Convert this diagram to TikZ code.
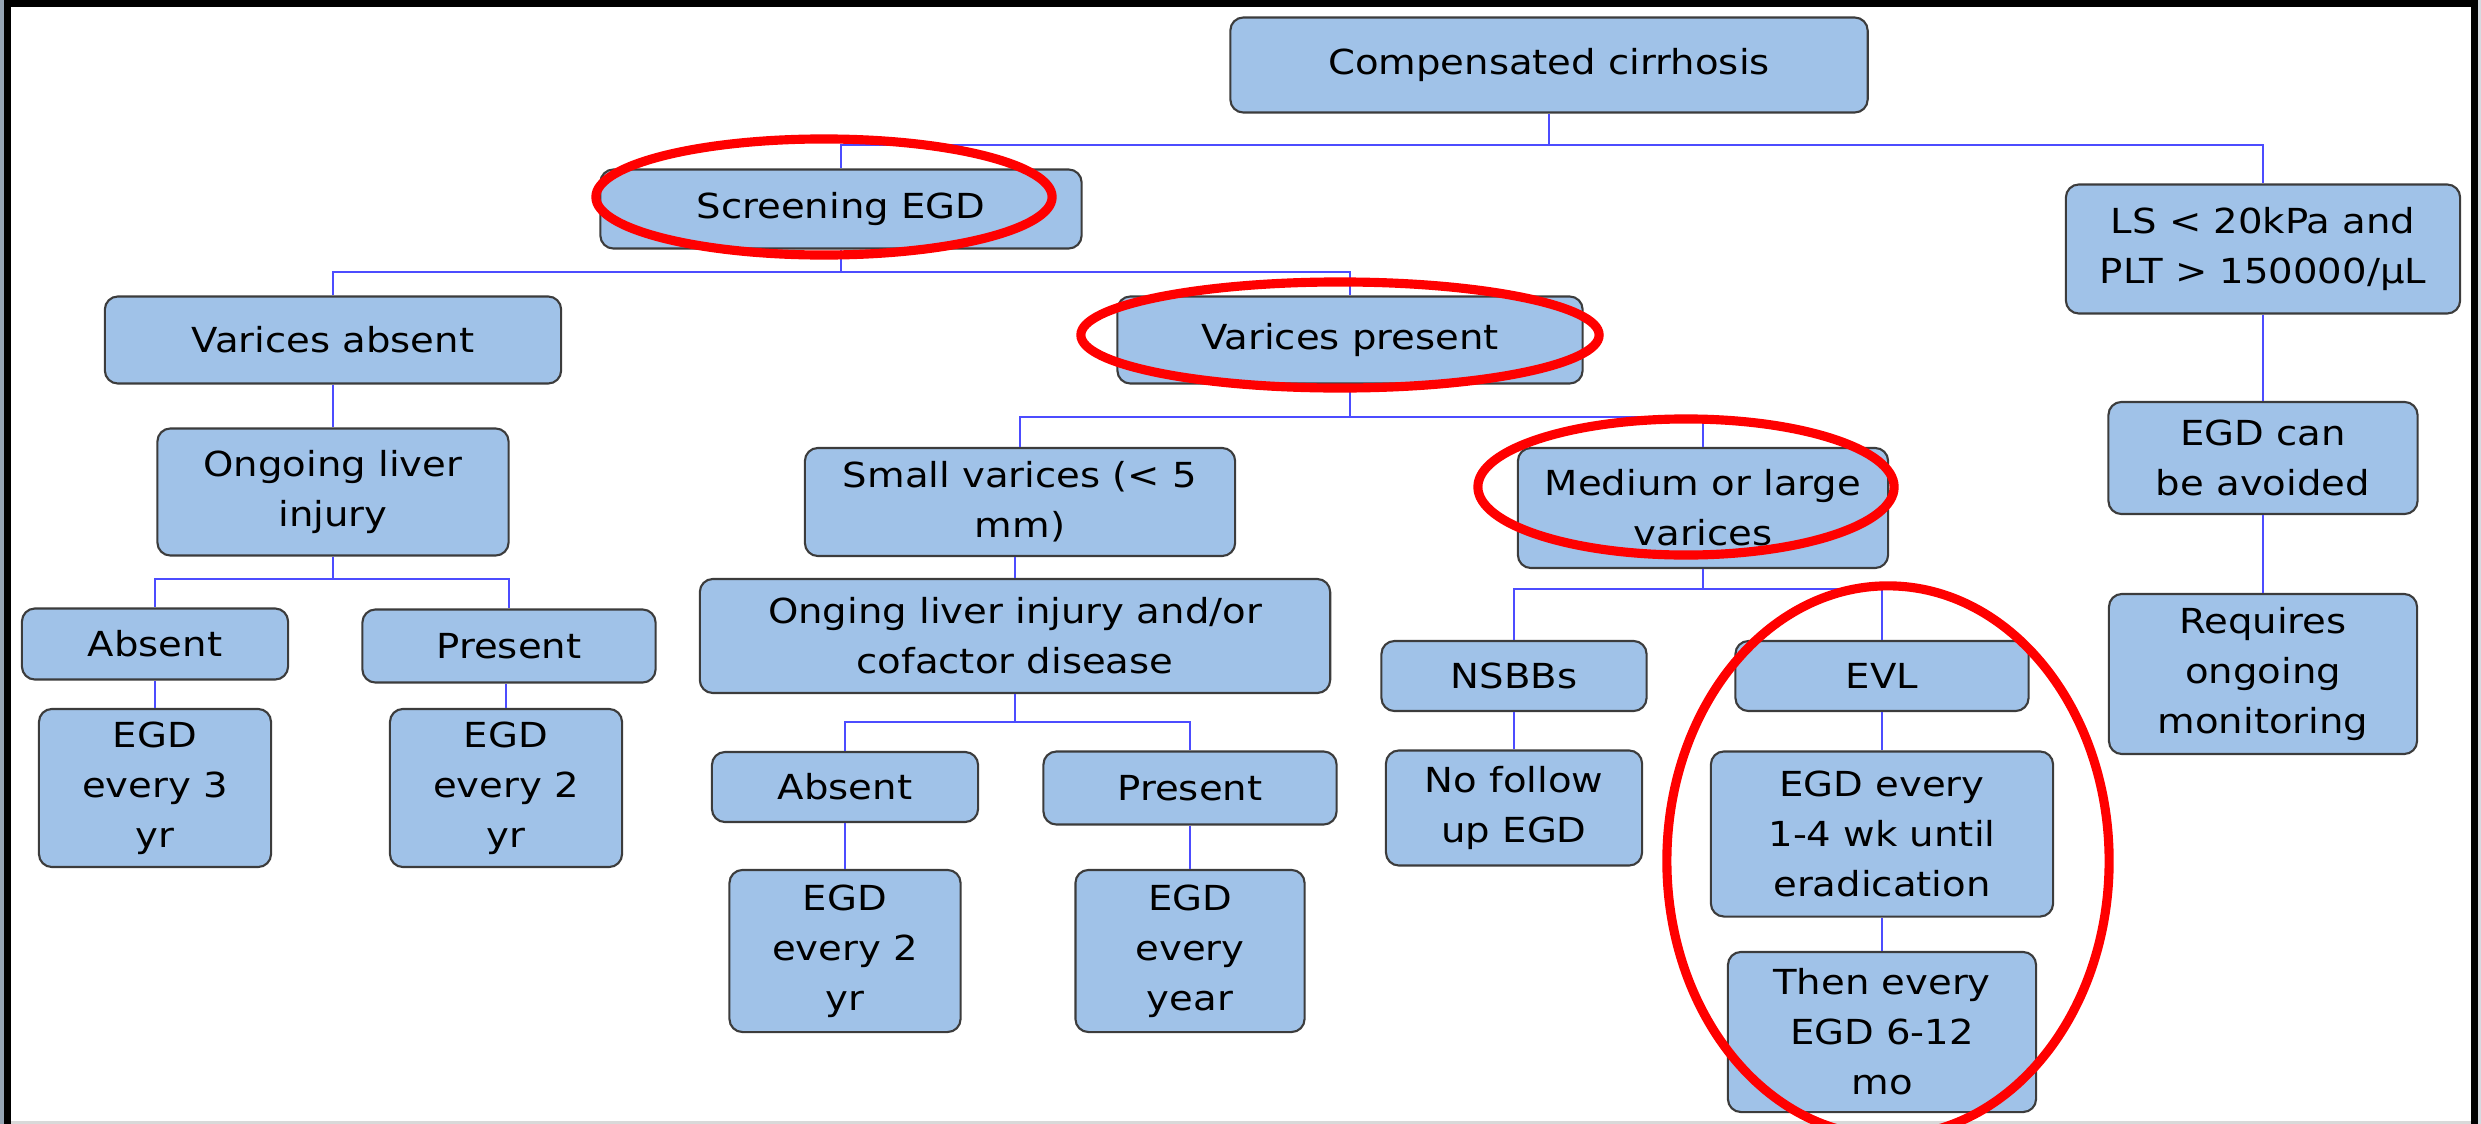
\documentclass[tikz,border=0pt]{standalone}
\usepackage{fontspec}
\setmainfont{DejaVu Sans}[FakeStretch=1.12]
\definecolor{boxblue}{RGB}{160,194,232}
\definecolor{boxline}{RGB}{60,60,60}
\definecolor{linkblue}{RGB}{76,76,255}
\definecolor{framegray}{RGB}{150,165,180}
\definecolor{ringred}{RGB}{255,0,0}

\begin{document}
\begin{tikzpicture}[
    x=0.01cm, y=-0.01cm,
    box/.style={rectangle, draw=boxline, fill=boxblue, rounded corners=3.7pt, line width=0.6pt, align=center, inner sep=0pt, font=\fontsize{9.8pt}{14.2pt}\selectfont, text=black},
    link/.style={draw=linkblue, line width=0.55pt},
    ring/.style={draw=ringred, line width=2.6pt},
]
\useasboundingbox (0,0) rectangle (2481,1124);
\clip (0,0) rectangle (2481,1124);

% Frame
\fill[framegray] (0,0) rectangle (4,1124);
\fill[framegray!40] (2478,0) rectangle (2481,1124);
\fill[black!15] (11,1121) rectangle (2471,1124);
\fill[black] (4,0) rectangle (11,1124);
\fill[black] (4,0) rectangle (2478,7);
\fill[black] (2471,0) rectangle (2478,1124);

% Top levels
\node[box, minimum width=6.37cm, minimum height=0.95cm] (cc) at (1549,65) {Compensated cirrhosis};
\node[box, minimum width=4.81cm, minimum height=0.79cm] (screen) at (841,209) {Screening EGD};
\node[box, minimum width=3.94cm, minimum height=1.29cm] (ls) at (2263,249) {LS < 20kPa and\\PLT > 150000/μL};
\node[box, minimum width=4.56cm, minimum height=0.87cm] (vabs) at (333,340) {Varices absent};
\node[box, minimum width=4.65cm, minimum height=0.87cm] (vpres) at (1350,340) {Varices present};

% Left branch
\node[box, minimum width=3.51cm, minimum height=1.27cm] (olinj) at (333,492) {Ongoing liver\\injury};
\node[box, minimum width=2.66cm, minimum height=0.71cm] (abs1) at (155,644) {Absent};
\node[box, minimum width=2.93cm, minimum height=0.73cm] (pres1) at (509,646) {Present};
\node[box, minimum width=2.32cm, minimum height=1.58cm] (egd3) at (155,788) {EGD\\every 3\\yr};
\node[box, minimum width=2.32cm, minimum height=1.58cm] (egd2a) at (506,788) {EGD\\every 2\\yr};

% Small varices
\node[box, minimum width=4.30cm, minimum height=1.08cm] (small) at (1020,502) {Small varices (< 5\\mm)};
\node[box, minimum width=6.30cm, minimum height=1.14cm] (cofac) at (1015,636) {Onging liver injury and/or\\cofactor disease};
\node[box, minimum width=2.66cm, minimum height=0.70cm] (abs2) at (845,787) {Absent};
\node[box, minimum width=2.93cm, minimum height=0.73cm] (pres2) at (1190,788) {Present};
\node[box, minimum width=2.31cm, minimum height=1.62cm] (egd2b) at (845,951) {EGD\\every 2\\yr};
\node[box, minimum width=2.29cm, minimum height=1.62cm] (egdyr) at (1190,951) {EGD\\every\\year};

% Medium or large varices
\node[box, minimum width=3.70cm, minimum height=1.20cm] (medium) at (1703,508) {Medium or large\\varices};
\node[box, minimum width=2.65cm, minimum height=0.70cm] (nsbb) at (1514,676) {NSBBs};
\node[box, minimum width=2.93cm, minimum height=0.70cm] (evl) at (1882,676) {EVL};
\node[box, minimum width=2.56cm, minimum height=1.15cm] (nofol) at (1514,808) {No follow\\up EGD};
\node[box, minimum width=3.42cm, minimum height=1.65cm] (egd14) at (1882,834) {EGD every\\1-4 wk until\\eradication};
\node[box, minimum width=3.08cm, minimum height=1.60cm] (then) at (1882,1032) {Then every\\EGD 6-12\\mo};

% Right branch
\node[box, minimum width=3.09cm, minimum height=1.12cm] (avoid) at (2263,458) {EGD can\\be avoided};
\node[box, minimum width=3.08cm, minimum height=1.60cm] (monit) at (2263,674) {Requires\\ongoing\\monitoring};

% Connectors
\coordinate (bus1) at (0,145);
\coordinate (bus2) at (0,272);
\coordinate (bus3) at (0,579);
\coordinate (bus4) at (0,417);
\coordinate (bus5) at (0,722);
\coordinate (bus6) at (0,589);
\foreach \p/\c/\b in {cc/screen/bus1, cc/ls/bus1, screen/vabs/bus2, screen/vpres/bus2, olinj/abs1/bus3, olinj/pres1/bus3, vpres/small/bus4, vpres/medium/bus4, cofac/abs2/bus5, cofac/pres2/bus5, medium/nsbb/bus6, medium/evl/bus6}
    \draw[link] (\p.south) -- (\p.south |- \b) -| (\c.north);
\foreach \p/\c in {vabs/olinj, abs1/egd3, pres1/egd2a, small/cofac, abs2/egd2b, pres2/egdyr, nsbb/nofol, evl/egd14, egd14/then, ls/avoid, avoid/monit}
    \draw[link] (\c.north |- \p.south) -- (\c.north);

% Highlights
\draw[ring] (824,197) ellipse [x radius=2.28cm, y radius=0.58cm];
\draw[ring] (1340,335) ellipse [x radius=2.59cm, y radius=0.53cm];
\draw[ring] (1686,487) ellipse [x radius=2.08cm, y radius=0.68cm];
\draw[ring] (1888,861) ellipse [x radius=2.21cm, y radius=2.75cm];

\end{tikzpicture}
\end{document}
